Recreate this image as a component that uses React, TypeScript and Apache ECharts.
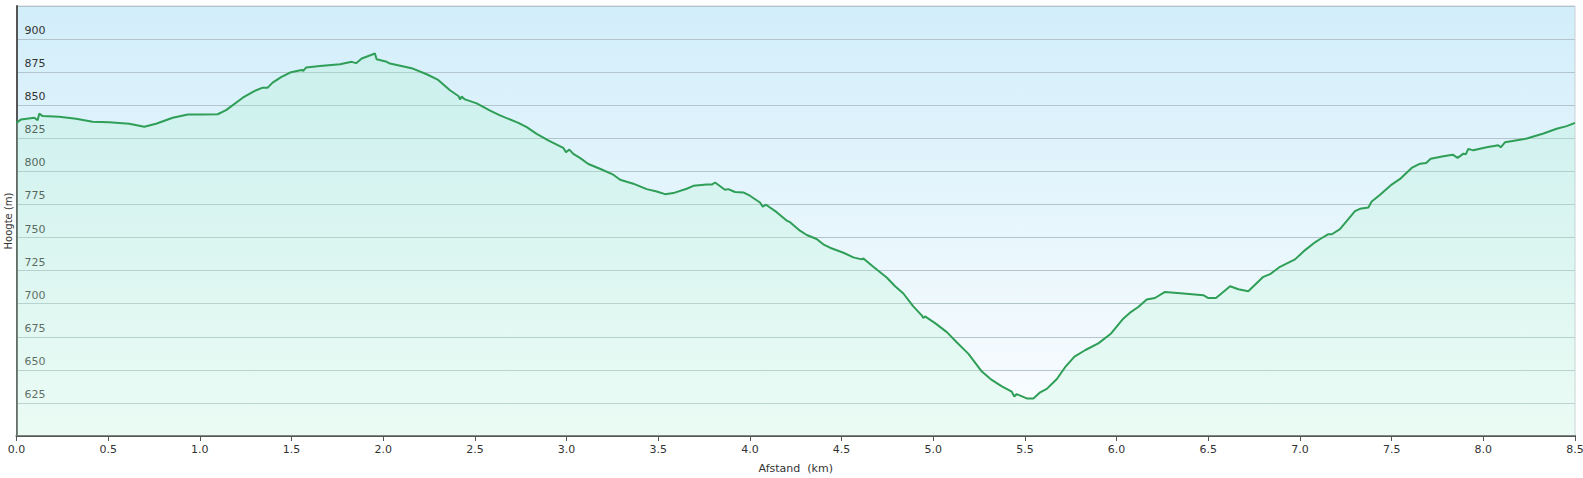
import React, { useEffect, useRef } from "react";
import * as echarts from "echarts";

const distanceKm = [
  0, 0.025, 0.097, 0.115, 0.124, 0.143, 0.233, 0.325, 0.415, 0.506, 0.615, 0.697, 0.761, 0.852, 0.934,
  1.016, 1.097, 1.143, 1.234, 1.297, 1.343, 1.37, 1.397, 1.443, 1.492, 1.555, 1.564, 1.579, 1.655,
  1.764, 1.828, 1.852, 1.883, 1.955, 1.964, 2.019, 2.037, 2.155, 2.237, 2.3, 2.364, 2.41, 2.419,
  2.428, 2.446, 2.51, 2.583, 2.637, 2.737, 2.783, 2.837, 2.9, 2.982, 2.997, 3.015, 3.037, 3.073,
  3.119, 3.182, 3.255, 3.292, 3.364, 3.437, 3.492, 3.537, 3.582, 3.655, 3.692, 3.764, 3.792, 3.81,
  3.864, 3.882, 3.919, 3.964, 4.0, 4.055, 4.07, 4.088, 4.146, 4.2, 4.219, 4.273, 4.31, 4.364, 4.4,
  4.437, 4.51, 4.564, 4.61, 4.619, 4.673, 4.746, 4.792, 4.837, 4.891, 4.937, 4.946, 4.955, 5.01,
  5.074, 5.128, 5.192, 5.265, 5.319, 5.374, 5.428, 5.442, 5.455, 5.51, 5.546, 5.583, 5.619, 5.674,
  5.719, 5.77, 5.83, 5.9, 5.97, 6.036, 6.073, 6.118, 6.164, 6.209, 6.264, 6.364, 6.473, 6.5, 6.542,
  6.619, 6.664, 6.718, 6.8, 6.837, 6.891, 6.973, 7.028, 7.082, 7.11, 7.155, 7.174, 7.218, 7.3, 7.327,
  7.373, 7.391, 7.437, 7.5, 7.546, 7.609, 7.655, 7.688, 7.713, 7.782, 7.833, 7.86, 7.891, 7.905,
  7.918, 7.945, 8.018, 8.082, 8.095, 8.118, 8.237, 8.328, 8.4, 8.455, 8.5,
];

const elevationM = [
  836.7, 839.3, 840.5, 838.7, 843.6, 841.8, 841.3, 839.8, 837.5, 837.2, 836, 833.7, 836, 840.5, 843,
  843, 843.2, 846.3, 855.7, 860.7, 863.3, 863.3, 867.1, 871.2, 874.7, 876.7, 876, 878.5, 879.7,
  881, 882.8, 881.8, 885.3, 889.1, 884.8, 882.8, 881.5, 878, 873.4, 869.1, 861.3, 857, 854.4,
  856.5, 854.4, 851.4, 846, 842.3, 836.7, 833.4, 828.4, 823.5, 817.8, 814.4, 816.5, 813.2, 810.2,
  805.6, 802, 797.5, 793.7, 790.7, 786.6, 784.8, 782.8, 783.6, 786.9, 789.1, 790.1, 790, 791.6,
  786.1, 786.6, 784.4, 784.1, 781.6, 776.5, 773.4, 774.8, 769.2, 762.8, 761.6, 755.2, 751.9, 748.9, 744.9,
  742.3, 738.5, 735, 733.5, 734.2, 727.9, 719.8, 713.2, 707.7, 698, 691.2, 689.1, 690.4, 685.3,
  678.5, 670.9, 662.1, 648.7, 642.4, 637.5, 633.5, 629.9, 631.7, 628.4, 628.4, 633, 635.6, 643.1,
  652, 660, 665, 670, 677.5, 688.7, 693.2, 697.5, 703.1, 704.3, 708.9, 707.7, 706.4, 704.3, 704.3,
  713.2, 710.9, 709.4, 720.3, 722.3, 727.9, 733.5, 740.5, 746.4, 748.9, 752.5, 752.5, 756.3, 769.9, 771.7,
  772.7, 777.3, 782.3, 790, 794.3, 802.6, 805.8, 806.4, 809.6, 811.4, 812.6, 810.2, 813.4, 813,
  817, 815.9, 818.2, 819.7, 818.2, 822, 824.8, 828.6, 832.2, 834.2, 836.7,
];

const xTickStep = 0.5;
const yTickStep = 25;

export default function App() {
  const ref = useRef<HTMLDivElement>(null);

  useEffect(() => {
    document.body.style.margin = "0";
    if (!ref.current) return;
    const chart = echarts.init(ref.current, null, { renderer: "svg" });
    const data = distanceKm.map((d, i) => [d, elevationM[i]]);
    const font = "DejaVu Sans, Verdana, sans-serif";
    chart.setOption({
      animation: false,
      backgroundColor: "#ffffff",
      grid: {
        left: 16.5,
        right: 8,
        top: 6,
        bottom: 42,
        containLabel: false,
        outerBoundsMode: "none",
        show: true,
        borderColor: "#c8d0d4",
        borderWidth: 1,
        backgroundColor: new echarts.graphic.LinearGradient(0, 0, 0, 1, [
          { offset: 0, color: "#d2eefa" },
          { offset: 1, color: "#fbfdff" },
        ]),
      },
      xAxis: {
        type: "value",
        min: 0,
        max: 8.5,
        interval: xTickStep,
        name: "Afstand\u00a0 (km)",
        nameLocation: "middle",
        nameGap: 27,
        nameTextStyle: { fontFamily: font, fontSize: 11, color: "#333" },
        axisLine: { show: true, onZero: false, lineStyle: { color: "#555", width: 2 } },
        axisTick: { show: true, length: 5, lineStyle: { color: "#555", width: 1 } },
        axisLabel: {
          fontFamily: font,
          fontSize: 11,
          color: "#333",
          margin: 8,
          formatter: (v: number) => v.toFixed(1),
        },
        splitLine: { show: false },
      },
      yAxis: {
        type: "value",
        min: 600,
        max: 925,
        interval: yTickStep,
        name: "Hoogte (m)",
        nameLocation: "middle",
        nameGap: 3,
        nameMoveOverlap: false,
        nameRotate: 90,
        nameTextStyle: { fontFamily: font, fontSize: 10, color: "#333" },
        axisLine: { show: true, lineStyle: { color: "#555", width: 2 } },
        axisTick: { show: false },
        axisLabel: {
          inside: true,
          showMinLabel: false,
          showMaxLabel: false,
          fontFamily: font,
          fontSize: 11,
          color: "#333",
          margin: 8,
          verticalAlign: "bottom",
          padding: [0, 0, 3, 0],
        },
        splitLine: { show: true, lineStyle: { color: "#b4c4cc", width: 1 } },
      },
      series: [
        {
          type: "line",
          data,
          showSymbol: false,
          smooth: false,
          lineStyle: { color: "#2f9e57", width: 2 },
          areaStyle: {
            color: new echarts.graphic.LinearGradient(0, 0, 0, 1, [
              { offset: 0, color: "rgba(170, 240, 200, 0.35)" },
              { offset: 1, color: "rgba(200, 248, 220, 0.45)" },
            ]),
            origin: "start",
          },
        },
      ],
    });
    return () => chart.dispose();
  }, []);

  return <div ref={ref} style={{ width: 1583, height: 478 }} />;
}
